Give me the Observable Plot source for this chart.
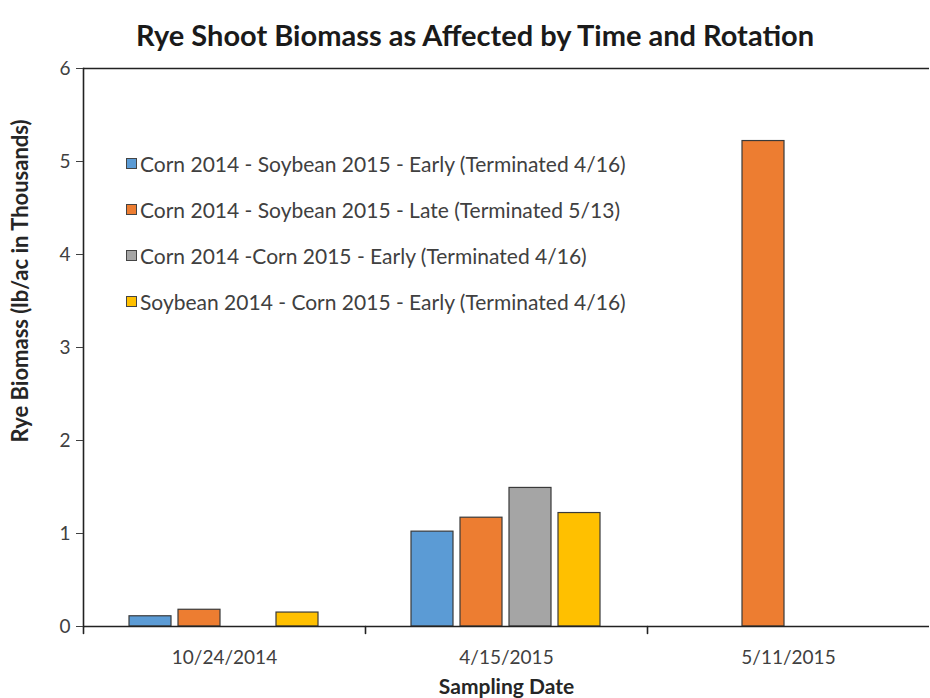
<!DOCTYPE html>
<html>
<head>
<meta charset="utf-8">
<script src="https://cdn.jsdelivr.net/npm/d3@7"></script>
<script src="https://cdn.jsdelivr.net/npm/@observablehq/plot@0.6"></script>
<style>
  html, body { margin: 0; padding: 0; background: #fff; }
  #wrap { position: relative; width: 930px; height: 698px; font-family: Lato, "Open Sans", sans-serif; }
  #title { height: 50px; box-sizing: border-box; padding-top: 18px; padding-left: 20px; text-align: center; font-weight: bold; font-size: 29px; line-height: 34px; color: #1a1a1a; white-space: nowrap; }
  #legend { position: absolute; left: 126px; top: 140px; font-size: 21px; color: #404040; white-space: nowrap; }
  .item { display: flex; align-items: center; height: 46px; }
  .sw { width: 11px; height: 11px; border: 1px solid #444; margin-right: 3px; box-sizing: border-box; }
  #ylabel { position: absolute; left: 19px; top: 281px; transform: translate(-50%, -50%) rotate(-90deg); font-weight: bold; font-size: 22px; color: #262626; white-space: nowrap; }
</style>
</head>
<body>
<div id="wrap">
  <div id="title">Rye Shoot Biomass as Affected by Time and Rotation</div>
  <div id="chart"></div>
  <div id="legend"></div>
  <div id="ylabel"></div>
</div>
<script>
const dates = ["10/24/2014", "4/15/2015", "5/11/2015"];
const series = [
  "Corn 2014 - Soybean 2015 - Early (Terminated 4/16)",
  "Corn 2014 - Soybean 2015 - Late (Terminated 5/13)",
  "Corn 2014 -Corn 2015 - Early (Terminated 4/16)",
  "Soybean 2014 - Corn 2015 - Early (Terminated 4/16)"
];
const colors = ["#5B9BD5", "#ED7D31", "#A5A5A5", "#FFC000"];
// values per series for each date (null = no bar)
const earlyCS = [0.11, 1.02, null];
const lateCS  = [0.18, 1.17, 5.22];
const cornCorn = [null, 1.49, null];
const soyCorn = [0.15, 1.22, null];
const yTicks = [0, 1, 2, 3, 4, 5, 6];
const yLabel = "Rye Biomass (lb/ac in Thousands)";
const xLabel = "Sampling Date";

const seriesValues = [earlyCS, lateCS, cornCorn, soyCorn];
const data = [];
seriesValues.forEach((vals, si) => vals.forEach((v, di) => {
  if (v != null) data.push({date: dates[di], series: series[si], value: v});
}));

const tickShape = {draw(context, l) { context.moveTo(0, 0); context.lineTo(0, -l); }};

const chart = Plot.plot({
  width: 930,
  height: 648,
  marginTop: 18,
  marginBottom: 72,
  marginLeft: 82,
  marginRight: 0,
  style: {fontFamily: "Lato, 'Open Sans', sans-serif", fontSize: "19px", color: "#404040"},
  fx: {domain: dates, padding: 0},
  x: {domain: series, axis: null, paddingInner: 0.14, paddingOuter: 0.9},
  y: {domain: [0, 6]},
  color: {domain: series, range: colors},
  marks: [
    Plot.barY(data, {fx: "date", x: "series", y: "value", fill: "series", stroke: "#3a3a3a", strokeWidth: 1.2}),
    Plot.ruleY([0], {stroke: "#222", strokeWidth: 1.6}),
    Plot.ruleY([6], {stroke: "#222", strokeWidth: 1.6}),
    Plot.frame({anchor: "left", fx: dates[0], stroke: "#222", strokeWidth: 1.6}),
    Plot.vector([0], {frameAnchor: "bottom-left", length: 7, rotate: 180, anchor: "start", shape: tickShape, stroke: "#222", strokeWidth: 1.6}),
    Plot.axisY(yTicks, {tickSize: 7, tickPadding: 6, tickFormat: d3.format("d"), label: null, fontSize: 19}),
    Plot.axisFx({anchor: "bottom", tickSize: 0, tickPadding: 24, label: xLabel, labelAnchor: "center", labelOffset: 67, labelArrow: "none", fontSize: 19})
  ]
});
document.getElementById("chart").appendChild(chart);

chart.querySelectorAll('g[aria-label="fx-axis label"] text').forEach(t => {
  t.setAttribute("font-weight", "bold");
  t.setAttribute("font-size", "21");
  t.setAttribute("fill", "#262626");
});

document.getElementById("ylabel").textContent = yLabel;

const legend = document.getElementById("legend");
series.forEach((s, i) => {
  const item = document.createElement("div");
  item.className = "item";
  const sw = document.createElement("span");
  sw.className = "sw";
  sw.style.background = colors[i];
  const tx = document.createElement("span");
  tx.textContent = s;
  item.appendChild(sw);
  item.appendChild(tx);
  legend.appendChild(item);
});
</script>
</body>
</html>
